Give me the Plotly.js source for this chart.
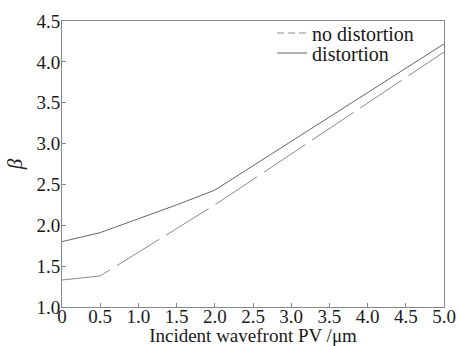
<!DOCTYPE html>
<html>
<head>
<meta charset="utf-8">
<script src="https://cdn.plot.ly/plotly-3.0.1.min.js"></script>
<style>html,body{margin:0;padding:0;background:#fff;}#chart{width:459px;height:346px;}</style>
</head>
<body>
<div id="chart"></div>
<script>
const pv = [0, 0.5, 1.0, 1.5, 2.0, 2.5, 3.0, 3.5, 4.0, 4.5, 5.0];
const noDistortion = [1.33, 1.38, 1.67, 1.96, 2.25, 2.56, 2.87, 3.18, 3.50, 3.81, 4.12];
const distortion = [1.80, 1.91, 2.08, 2.25, 2.43, 2.73, 3.02, 3.32, 3.62, 3.92, 4.22];
const xTicks = [0, 0.5, 1.0, 1.5, 2.0, 2.5, 3.0, 3.5, 4.0, 4.5, 5.0];
const xTickText = ['0', '0.5', '1.0', '1.5', '2.0', '2.5', '3.0', '3.5', '4.0', '4.5', '5.0'];
const yTicks = [1.0, 1.5, 2.0, 2.5, 3.0, 3.5, 4.0, 4.5];
const yTickText = ['1.0', '1.5', '2.0', '2.5', '3.0', '3.5', '4.0', '4.5'];

const font = 'Liberation Serif';
const traces = [
  {x: pv, y: noDistortion, mode: 'lines', name: 'no distortion', showlegend: false,
   line: {color: '#8a8a8a', width: 1, dash: '50px,8px'}},
  {x: [null], y: [null], mode: 'lines', name: 'no distortion', legend: 'legend',
   line: {color: '#8a8a8a', width: 1, dash: '7px,4px'}},
  {x: pv, y: distortion, mode: 'lines', name: 'distortion', legend: 'legend2',
   line: {color: '#666666', width: 1}}
];
const legendStyle = (y) => ({x: 0.55, xanchor: 'left', y: y, yanchor: 'middle', bgcolor: 'rgba(0,0,0,0)',
    font: {family: font, size: 20, color: '#1a1a1a'}, itemwidth: 30, borderwidth: 0});
const layout = {
  width: 459, height: 346,
  margin: {l: 62, r: 15, t: 21, b: 39},
  paper_bgcolor: '#fff', plot_bgcolor: '#fff',
  font: {family: font, color: '#1a1a1a', size: 19},
  showlegend: true,
  legend: legendStyle(0.958),
  legend2: legendStyle(0.888),
  xaxis: {range: [0, 5], tickvals: xTicks, ticktext: xTickText, ticks: 'inside', ticklen: 4,
    tickcolor: '#888', showline: true, linecolor: '#888', linewidth: 1, mirror: true,
    showgrid: false, zeroline: false, automargin: false, ticklabelstandoff: -8,
    tickfont: {family: font, size: 19, color: '#1a1a1a'},
    title: {text: 'Incident wavefront PV /μm', standoff: 2, font: {family: font, size: 19, color: '#1a1a1a'}}},
  yaxis: {range: [1.0, 4.5], tickvals: yTicks, ticktext: yTickText, ticks: 'inside', ticklen: 4,
    tickcolor: '#888', showline: true, linecolor: '#888', linewidth: 1, mirror: true,
    showgrid: false, zeroline: false, automargin: false, ticklabelstandoff: -3,
    tickfont: {family: font, size: 19, color: '#1a1a1a'},
    title: {text: '<i>β</i>', standoff: 8, font: {family: font, size: 21, color: '#1a1a1a'}}}
};
Plotly.newPlot('chart', traces, layout, {displayModeBar: false, staticPlot: true});
</script>
</body>
</html>
